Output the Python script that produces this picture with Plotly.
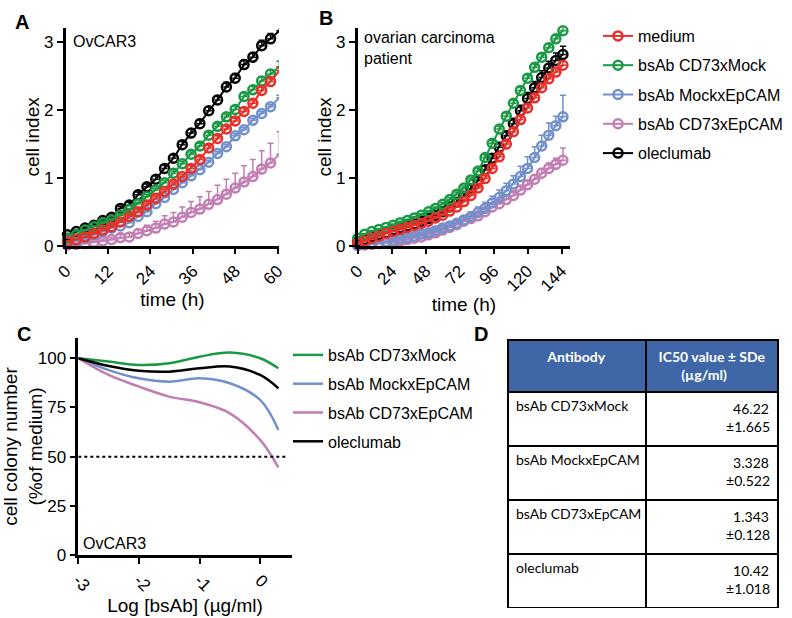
''' Cell index curves (A, B), colony dose response (C) and IC50 table (D) '''
import plotly.graph_objects as go

W, H = 792, 618
FONT = 'Arial, Liberation Sans, sans-serif'
TABLE_FONT = 'Lato'

names = ['medium', 'bsAb CD73xMock', 'bsAb MockxEpCAM', 'bsAb CD73xEpCAM', 'oleclumab']
colors = {
    'medium': '#E8302A',
    'bsAb CD73xMock': '#1A9A45',
    'bsAb MockxEpCAM': '#7290CB',
    'bsAb CD73xEpCAM': '#C27DB2',
    'oleclumab': '#000000',
}

# ---- panel A: OvCAR3, cell index over time
time_a = [0.5, 3, 5.5, 8, 10.5, 13, 15.5, 18, 20.5, 23, 25.5, 28, 30.5,
          33, 35.5, 38, 40.5, 43, 45.5, 48, 50.5, 53, 55.5, 58, 60.5]
medium_a = [0.06, 0.09, 0.13, 0.18, 0.23, 0.28, 0.35, 0.43, 0.50, 0.60, 0.70, 0.80, 0.91,
            1.02, 1.14, 1.27, 1.44, 1.58, 1.72, 1.84, 1.98, 2.10, 2.29, 2.42, 2.58]
cd73mock_a = [0.11, 0.16, 0.23, 0.28, 0.34, 0.38, 0.45, 0.53, 0.62, 0.72, 0.82, 0.93, 1.07,
              1.21, 1.35, 1.47, 1.63, 1.76, 1.90, 2.01, 2.20, 2.30, 2.43, 2.53, 2.64]
mockepcam_a = [0.04, 0.07, 0.11, 0.16, 0.21, 0.26, 0.29, 0.34, 0.43, 0.50, 0.62, 0.71, 0.83,
               0.93, 1.03, 1.12, 1.23, 1.36, 1.46, 1.62, 1.71, 1.85, 1.95, 2.05, 2.18]
cd73epcam_a = [0.01, 0.02, 0.03, 0.05, 0.07, 0.09, 0.12, 0.13, 0.18, 0.22, 0.26, 0.32, 0.35,
               0.42, 0.49, 0.54, 0.61, 0.68, 0.76, 0.85, 0.94, 1.02, 1.13, 1.22, 1.35]
olec_a = [0.16, 0.21, 0.26, 0.30, 0.37, 0.42, 0.55, 0.60, 0.75, 0.87, 0.98, 1.14, 1.29,
          1.49, 1.66, 1.80, 1.99, 2.15, 2.34, 2.47, 2.67, 2.78, 2.95, 3.05, 3.17]
medium_a_err = [0.01, 0.01, 0.01, 0.02, 0.02, 0.02, 0.02, 0.02, 0.03, 0.03, 0.03, 0.03, 0.03,
                0.03, 0.04, 0.04, 0.04, 0.04, 0.04, 0.04, 0.05, 0.05, 0.05, 0.05, 0.06]
cd73mock_a_err = [0.01, 0.01, 0.01, 0.01, 0.02, 0.02, 0.02, 0.02, 0.02, 0.03, 0.03, 0.03, 0.03,
                  0.03, 0.03, 0.04, 0.04, 0.04, 0.04, 0.05, 0.05, 0.05, 0.06, 0.06, 0.08]
mockepcam_a_err = [0.01, 0.01, 0.01, 0.01, 0.01, 0.01, 0.01, 0.02, 0.02, 0.02, 0.02, 0.02, 0.02,
                   0.02, 0.02, 0.02, 0.03, 0.03, 0.03, 0.03, 0.03, 0.03, 0.03, 0.03, 0.04]
cd73epcam_a_err = [0.01, 0.01, 0.02, 0.02, 0.03, 0.03, 0.04, 0.05, 0.06, 0.08, 0.10, 0.12, 0.14,
                   0.15, 0.16, 0.18, 0.19, 0.21, 0.22, 0.22, 0.24, 0.25, 0.27, 0.29, 0.33]
olec_a_err = [0.02, 0.02, 0.02, 0.03, 0.03, 0.03, 0.03, 0.04, 0.04, 0.04, 0.05, 0.05, 0.05,
              0.05, 0.06, 0.06, 0.06, 0.06, 0.07, 0.07, 0.07, 0.07, 0.08, 0.08, 0.08]

# ---- panel B: ovarian carcinoma patient, cell index over time
time_b = [0, 5, 10, 15, 20, 25, 30, 35, 40, 45, 50, 55, 60, 65, 70,
          75, 80, 85, 90, 95, 100, 105, 110, 115, 120, 125, 130, 135, 140, 145]
medium_b = [0.04, 0.07, 0.11, 0.14, 0.18, 0.21, 0.24, 0.27, 0.30, 0.33, 0.36, 0.41, 0.45, 0.51, 0.57,
            0.65, 0.74, 0.85, 0.99, 1.14, 1.31, 1.50, 1.68, 1.86, 2.03, 2.18, 2.33, 2.46, 2.56, 2.66]
cd73mock_b = [0.11, 0.17, 0.21, 0.24, 0.27, 0.30, 0.34, 0.37, 0.41, 0.45, 0.50, 0.55, 0.61, 0.68, 0.76,
              0.85, 0.97, 1.10, 1.30, 1.51, 1.72, 1.91, 2.10, 2.29, 2.47, 2.63, 2.78, 2.92, 3.05, 3.17]
mockepcam_b = [0.01, 0.02, 0.03, 0.04, 0.06, 0.08, 0.10, 0.12, 0.14, 0.17, 0.19, 0.22, 0.26, 0.29, 0.33,
               0.38, 0.43, 0.49, 0.55, 0.63, 0.71, 0.81, 0.91, 1.02, 1.14, 1.30, 1.47, 1.63, 1.77, 1.90]
cd73epcam_b = [0.00, 0.01, 0.02, 0.03, 0.04, 0.05, 0.07, 0.09, 0.11, 0.13, 0.16, 0.19, 0.23, 0.27, 0.31,
               0.36, 0.40, 0.44, 0.50, 0.57, 0.62, 0.68, 0.74, 0.82, 0.90, 0.98, 1.07, 1.14, 1.20, 1.26]
olec_b = [0.06, 0.09, 0.13, 0.16, 0.19, 0.23, 0.26, 0.29, 0.32, 0.36, 0.40, 0.45, 0.50, 0.57, 0.64,
          0.73, 0.84, 0.96, 1.12, 1.29, 1.45, 1.62, 1.80, 1.99, 2.17, 2.33, 2.48, 2.62, 2.73, 2.82]
medium_b_err = [0.01, 0.01, 0.01, 0.01, 0.01, 0.01, 0.02, 0.02, 0.02, 0.02, 0.02, 0.02, 0.02, 0.03, 0.03,
                0.03, 0.03, 0.03, 0.04, 0.04, 0.04, 0.04, 0.05, 0.05, 0.05, 0.05, 0.06, 0.06, 0.06, 0.06]
cd73mock_b_err = [0.01, 0.01, 0.01, 0.01, 0.01, 0.02, 0.02, 0.02, 0.02, 0.02, 0.02, 0.02, 0.03, 0.03, 0.03,
                  0.03, 0.03, 0.04, 0.04, 0.04, 0.04, 0.05, 0.05, 0.05, 0.05, 0.05, 0.05, 0.05, 0.05, 0.05]
mockepcam_b_err = [0.01, 0.01, 0.01, 0.01, 0.01, 0.02, 0.02, 0.02, 0.02, 0.03, 0.03, 0.03, 0.04, 0.04, 0.05,
                   0.06, 0.07, 0.08, 0.09, 0.10, 0.11, 0.11, 0.12, 0.15, 0.17, 0.16, 0.16, 0.18, 0.14, 0.32]
cd73epcam_b_err = [0.01, 0.01, 0.01, 0.01, 0.01, 0.01, 0.01, 0.01, 0.02, 0.02, 0.02, 0.02, 0.02, 0.03, 0.03,
                   0.03, 0.03, 0.03, 0.04, 0.04, 0.04, 0.05, 0.05, 0.05, 0.06, 0.06, 0.07, 0.08, 0.09, 0.18]
olec_b_err = [0.01, 0.01, 0.01, 0.01, 0.02, 0.02, 0.02, 0.02, 0.02, 0.02, 0.03, 0.03, 0.03, 0.03, 0.04,
              0.04, 0.05, 0.05, 0.06, 0.06, 0.07, 0.07, 0.08, 0.08, 0.09, 0.09, 0.10, 0.10, 0.11, 0.12]

# ---- panel C: colony number (% of medium) vs log concentration, OvCAR3
log_conc = [-3, -2.5, -2, -1.5, -1, -0.5, 0, 0.3]
colony = {
    'bsAb CD73xMock': [100, 98.3, 96.6, 97.5, 100.8, 102.9, 100, 94.9],
    'bsAb MockxEpCAM': [100, 94.0, 89.8, 88.1, 89.8, 87.3, 78.8, 63.6],
    'bsAb CD73xEpCAM': [100, 91.5, 85.6, 80.5, 77.6, 72.0, 58.5, 44.6],
    'oleclumab': [100, 96.1, 93.7, 93.2, 94.9, 95.8, 91.5, 84.7],
}
half_line_x = [-3, 0.45]
half_line_y = [50, 50]

# ---- panel D: IC50 table
table_antibody = ['bsAb CD73xMock', 'bsAb MockxEpCAM', 'bsAb CD73xEpCAM', 'oleclumab']
table_ic50 = ['46.22', '3.328', '1.343', '10.42']
table_sde = ['1.665', '0.522', '0.128', '1.018']

series_a = {
    'medium': (medium_a, medium_a_err),
    'bsAb CD73xMock': (cd73mock_a, cd73mock_a_err),
    'bsAb MockxEpCAM': (mockepcam_a, mockepcam_a_err),
    'bsAb CD73xEpCAM': (cd73epcam_a, cd73epcam_a_err),
    'oleclumab': (olec_a, olec_a_err),
}
series_b = {
    'medium': (medium_b, medium_b_err),
    'bsAb CD73xMock': (cd73mock_b, cd73mock_b_err),
    'bsAb MockxEpCAM': (mockepcam_b, mockepcam_b_err),
    'bsAb CD73xEpCAM': (cd73epcam_b, cd73epcam_b_err),
    'oleclumab': (olec_b, olec_b_err),
}


def px_x(p):
    return p / W


def px_y(p):
    return 1 - p / H


def growth_trace(name, t, vals, err, xa, ya, legend_on):
    c = colors[name]
    return go.Scatter(
        x=t, y=vals, name=name, mode='lines+markers',
        line=dict(color=c, width=2),
        marker=dict(symbol='circle-open', size=9, color=c, line=dict(width=2.5, color=c)),
        error_y=dict(type='data', symmetric=False, array=err, color=c, thickness=1.5, width=3),
        xaxis=xa, yaxis=ya, legend='legend', legendgroup=name,
        legendrank=names.index(name), showlegend=legend_on, cliponaxis=False)


fig = go.Figure()
draw_order = ['bsAb CD73xEpCAM', 'bsAb MockxEpCAM', 'oleclumab', 'bsAb CD73xMock', 'medium']
for n in draw_order:
    v, e = series_a[n]
    fig.add_trace(growth_trace(n, time_a, v, e, 'x', 'y', True))
for n in draw_order:
    v, e = series_b[n]
    fig.add_trace(growth_trace(n, time_b, v, e, 'x2', 'y2', False))

for i, (n, v) in enumerate(colony.items()):
    fig.add_trace(go.Scatter(
        x=log_conc, y=v, name=n, mode='lines',
        line=dict(color=colors[n], width=2.5, shape='spline', smoothing=1.0),
        xaxis='x3', yaxis='y3', legend='legend2', legendgroup='c' + n, legendrank=i))
fig.add_trace(go.Scatter(
    x=half_line_x, y=half_line_y, mode='lines', showlegend=False,
    line=dict(color='black', width=2, dash='dot'), xaxis='x3', yaxis='y3'))

# table lines are laid out left-aligned inside a cell, so pad the shorter
# line with fixed-width spaces (nbsp keeps the names on one line)
fig.add_trace(go.Table(
    domain=dict(x=[px_x(508), px_x(778)], y=[px_y(608), px_y(340)]),
    columnwidth=[138, 132],
    header=dict(
        values=['<b>Antibody</b>',
                '<b>IC50 value ± SDe<br>\u2003\u2003\u2009(µg/ml)</b>'],
        fill_color='#3F66A6', align='center', height=52,
        font=dict(color='white', size=14, family=TABLE_FONT),
        line=dict(color='black', width=1.5)),
    cells=dict(
        values=[[a.replace(' ', '\u00a0') for a in table_antibody],
                [f'\u2002{v}<br>±{s}' for v, s in zip(table_ic50, table_sde)]],
        fill_color='white', align=['left', 'right'], height=54,
        font=dict(color='black', size=14, family=TABLE_FONT),
        line=dict(color='black', width=1.5))))

axis_style = dict(
    showline=True, linecolor='black', linewidth=2.5, ticks='outside', ticklen=6,
    tickwidth=2, tickcolor='black', showgrid=False, zeroline=False, automargin=False,
    tickfont=dict(size=17, color='black', family=FONT),
    title_font=dict(size=19, color='black', family=FONT))

fig.update_layout(
    width=W, height=H, margin=dict(l=0, r=0, t=0, b=0),
    paper_bgcolor='white', plot_bgcolor='white',
    font=dict(family=FONT, color='black'),
    xaxis=dict(axis_style, domain=[px_x(65.7), px_x(279)], range=[0, 60.4],
               tickvals=[0, 12, 24, 36, 48, 60], tickangle=-45, anchor='y',
               title=dict(text='time (h)', standoff=4)),
    yaxis=dict(axis_style, domain=[px_y(245.7), px_y(28)], range=[0, 3.21],
               tickvals=[0, 1, 2, 3], anchor='x', title=dict(text='cell index', standoff=0)),
    xaxis2=dict(axis_style, domain=[px_x(357.7), px_x(570)], range=[0, 150],
                tickvals=[0, 24, 48, 72, 96, 120, 144], tickangle=-45, anchor='y2',
                title=dict(text='time (h)', standoff=4)),
    yaxis2=dict(axis_style, domain=[px_y(245.7), px_y(28)], range=[0, 3.21],
                tickvals=[0, 1, 2, 3], anchor='x2', title=dict(text='cell index', standoff=0)),
    xaxis3=dict(axis_style, domain=[px_x(78.3), px_x(291.7)], range=[-3, 0.52],
                tickvals=[-3, -2, -1, 0], ticktext=['-3', '-2', '-1', '0'], tickangle=45,
                anchor='y3', title=dict(text='Log [bsAb] (µg/ml)', standoff=4)),
    yaxis3=dict(axis_style, domain=[px_y(555), px_y(338)], range=[0, 110.3],
                tickvals=[0, 25, 50, 75, 100], anchor='x3',
                title=dict(text='cell colony number<br>(%of medium)', standoff=6)),
    legend=dict(x=px_x(598), y=px_y(19), xanchor='left', yanchor='top',
                font=dict(size=16, color='black', family=FONT), tracegroupgap=5.5,
                bgcolor='rgba(0,0,0,0)', itemwidth=30),
    legend2=dict(x=px_x(288), y=px_y(338), xanchor='left', yanchor='top',
                 font=dict(size=16, color='black', family=FONT), tracegroupgap=5,
                 bgcolor='rgba(0,0,0,0)', itemwidth=30),
)

letters = [('A', 13, 22), ('B', 317, 18), ('C', 15, 334), ('D', 472, 334)]
for txt, lx, ly in letters:
    fig.add_annotation(text=f'<b>{txt}</b>', x=px_x(lx), y=px_y(ly), xref='paper', yref='paper',
                       xanchor='left', yanchor='middle', showarrow=False,
                       font=dict(size=20, color='black', family=FONT))

inner_labels = [('OvCAR3', 71, 42), ('ovarian carcinoma<br>patient', 362, 48), ('OvCAR3', 81, 543)]
for txt, lx, ly in inner_labels:
    fig.add_annotation(text=txt, x=px_x(lx), y=px_y(ly), xref='paper', yref='paper',
                       xanchor='left', yanchor='middle', align='left', showarrow=False,
                       font=dict(size=16, color='black', family=FONT))

# drop the page's default body margin so the figure sits at the window corner
fig.write_html('out.html', config={'displayModeBar': False},
               post_script="document.body.style.margin = '0';")
